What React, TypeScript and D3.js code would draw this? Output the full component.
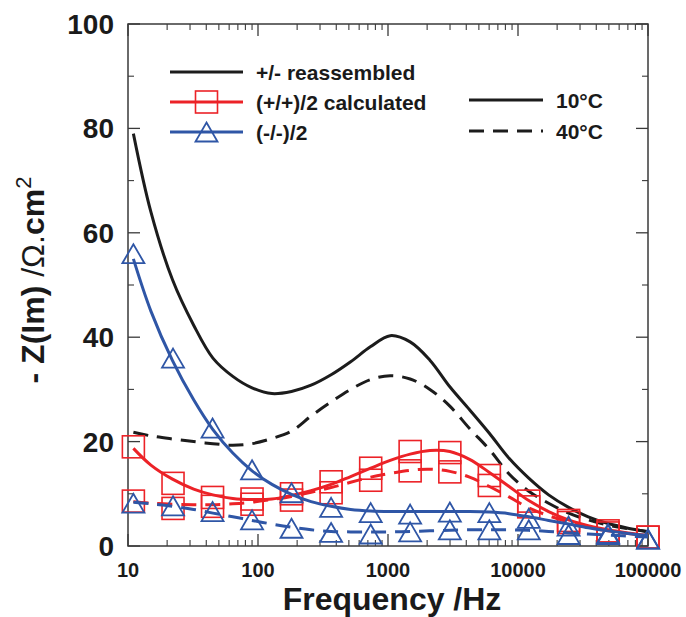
import React from "react";
import * as d3 from "d3";

// marker frequencies (Hz)
const markerFreq = [11, 22.2, 44.7, 90, 181, 365, 736, 1480, 2990, 6020, 12100, 24500, 49300, 100000];
// marker values
const redSolidPts = [19.0, 12.0, 9.3, 9.0, 10.0, 12.3, 14.9, 18.1, 17.9, 13.5, 8.6, 4.9, 2.9, 1.7];
const redDashPts = [8.6, 7.2, 7.6, 8.0, 8.8, 10.2, 12.6, 14.4, 14.2, 11.6, 7.5, 4.5, 2.5, 1.7];
const blueSolidPts = [56, 36, 22.6, 14.6, 10.2, 7.4, 6.4, 6.1, 6.5, 6.4, 5.3, 3.8, 2.4, 1.3];
const blueDashPts = [8.2, 7.7, 6.6, 5.0, 3.4, 2.6, 2.3, 2.7, 3.1, 3.1, 3.1, 2.2, 2.2, 1.3];

// fitted curve frequencies (Hz)
const curveFreq = [11, 15, 22, 32, 45, 64, 90, 128, 181, 256, 365, 516, 736, 1040, 1480, 2100, 2990, 4240, 6020, 8540, 12100, 17200, 24500, 34700, 49300, 70200, 100000];
const blackSolid = [79, 64, 51, 42.3, 36, 32.5, 30.3, 29.2, 29.6, 30.8, 32.8, 35.3, 38.2, 40.3, 39.1, 35.6, 30.5, 26.1, 21.6, 16.8, 13.0, 9.8, 7.4, 5.6, 4.3, 3.4, 2.7];
const blackDash = [21.8, 21.1, 20.5, 20.0, 19.6, 19.3, 19.6, 20.6, 22.0, 24.9, 27.6, 30.0, 31.9, 32.6, 32.0, 30.0, 26.8, 22.5, 18.5, 13.8, 10.5, 8.2, 6.3, 5.0, 4.0, 3.3, 2.8];
const redSolid = [18.7, 15.5, 12.8, 10.9, 9.8, 9.1, 8.9, 9.0, 9.7, 10.6, 11.8, 13.3, 14.9, 16.4, 17.6, 18.3, 18.1, 16.6, 14.1, 11.4, 8.7, 6.6, 5.0, 3.9, 3.1, 2.5, 2.0];
const redDash = [8.5, 8.2, 8.0, 7.9, 7.9, 8.1, 8.4, 8.9, 9.5, 10.3, 11.2, 12.2, 13.2, 13.9, 14.5, 14.7, 14.3, 13.2, 11.4, 9.4, 7.3, 5.8, 4.6, 3.6, 2.9, 2.4, 2.0];
const blueSolid = [55, 45, 35.5, 28, 22.3, 17.8, 14.4, 11.8, 9.9, 8.5, 7.6, 7.0, 6.7, 6.6, 6.6, 6.6, 6.6, 6.6, 6.5, 6.2, 5.6, 4.9, 4.2, 3.5, 2.9, 2.4, 2.0];
const blueDash = [8.4, 8.1, 7.6, 7.0, 6.3, 5.6, 4.9, 4.2, 3.6, 3.1, 2.8, 2.7, 2.7, 2.7, 2.8, 2.9, 3.0, 3.1, 3.1, 3.1, 3.0, 2.8, 2.5, 2.3, 2.1, 1.9, 1.7];

const xTicks = [10, 100, 1000, 10000, 100000];
const yTicks = [0, 20, 40, 60, 80, 100];
const legendLabels = ["+/- reassembled", "(+/+)/2 calculated", "(-/-)/2"];
const tempLabels = ["10°C", "40°C"];

const BLACK = "#1c1c1c";
const RED = "#ec2227";
const BLUE = "#2f56a6";
const AXIS = "#3a3a3a";
const FONT = "'Liberation Sans', Arial, Helvetica, sans-serif";
const DASH = "15,9";

export default function App() {
  const left = 128, right = 648, top = 24, bottom = 546;
  const x = d3.scaleLog().domain([10, 100000]).range([left, right]);
  const y = d3.scaleLinear().domain([0, 100]).range([bottom, top]);

  const line = (vals: number[]) =>
    d3.line<number>()
      .x((_, i) => x(curveFreq[i]))
      .y((v) => y(v))
      .curve(d3.curveCatmullRom.alpha(0.5))(vals) as string;

  const minorX: number[] = [];
  for (let dec = 10; dec < 100000; dec *= 10) {
    for (let k = 2; k <= 9; k++) minorX.push(dec * k);
  }
  const minorY = [10, 30, 50, 70, 90];

  const sq = 22;
  const triW = 22, triH = 19;
  const square = (cx: number, cy: number, key: string) => (
    <rect key={key} x={cx - sq / 2} y={cy - sq / 2} width={sq} height={sq} fill="none" stroke={RED} strokeWidth={1.6} />
  );
  const tri = (cx: number, cy: number, key: string) => (
    <path key={key}
      d={`M${cx},${cy - triH / 2}L${cx + triW / 2},${cy + triH / 2}L${cx - triW / 2},${cy + triH / 2}Z`}
      fill="none" stroke={BLUE} strokeWidth={1.8} />
  );

  return (
    <svg width={686} height={617} style={{ position: "absolute", left: 0, top: 0, background: "#fff" }}
      fontFamily={FONT}>
      {/* frame */}
      <rect x={left} y={top} width={right - left} height={bottom - top} fill="none" stroke={AXIS} strokeWidth={1.5} />
      {/* x ticks bottom & top */}
      {xTicks.map((t) => (
        <g key={"xt" + t}>
          <line x1={x(t)} x2={x(t)} y1={bottom} y2={bottom - 12} stroke={AXIS} strokeWidth={1.3} />
          <line x1={x(t)} x2={x(t)} y1={top} y2={top + 12} stroke={AXIS} strokeWidth={1.3} />
          <text x={x(t)} y={576.5} textAnchor="middle" fontSize={20} fontWeight="bold" fill="#1a1a1a">{t}</text>
        </g>
      ))}
      {minorX.map((t) => (
        <g key={"xm" + t}>
          <line x1={x(t)} x2={x(t)} y1={bottom} y2={bottom - 6} stroke={AXIS} strokeWidth={1.1} />
          <line x1={x(t)} x2={x(t)} y1={top} y2={top + 6} stroke={AXIS} strokeWidth={1.1} />
        </g>
      ))}
      {/* y ticks */}
      {yTicks.map((t) => (
        <g key={"yt" + t}>
          <line x1={left} x2={left + 12} y1={y(t)} y2={y(t)} stroke={AXIS} strokeWidth={1.3} />
          <line x1={right} x2={right - 12} y1={y(t)} y2={y(t)} stroke={AXIS} strokeWidth={1.3} />
          <text x={114} y={y(t) + 10} textAnchor="end" fontSize={28} fontWeight="bold" fill="#1a1a1a">{t}</text>
        </g>
      ))}
      {minorY.map((t) => (
        <g key={"ym" + t}>
          <line x1={left} x2={left + 6} y1={y(t)} y2={y(t)} stroke={AXIS} strokeWidth={1.1} />
          <line x1={right} x2={right - 6} y1={y(t)} y2={y(t)} stroke={AXIS} strokeWidth={1.1} />
        </g>
      ))}

      {/* curves */}
      <path d={line(blackSolid)} fill="none" stroke={BLACK} strokeWidth={3} />
      <path d={line(blackDash)} fill="none" stroke={BLACK} strokeWidth={3} strokeDasharray={DASH} />
      <path d={line(redSolid)} fill="none" stroke={RED} strokeWidth={3} />
      <path d={line(redDash)} fill="none" stroke={RED} strokeWidth={3} strokeDasharray={DASH} />
      {redSolidPts.map((v, i) => square(x(markerFreq[i]), y(v), "rs" + i))}
      {redDashPts.map((v, i) => square(x(markerFreq[i]), y(v), "rd" + i))}
      <path d={line(blueSolid)} fill="none" stroke={BLUE} strokeWidth={3} />
      <path d={line(blueDash)} fill="none" stroke={BLUE} strokeWidth={3} strokeDasharray={DASH} />
      {blueSolidPts.map((v, i) => tri(x(markerFreq[i]), y(v), "bs" + i))}
      {blueDashPts.map((v, i) => tri(x(markerFreq[i]), y(v), "bd" + i))}

      {/* legend 1 */}
      <line x1={170} x2={243} y1={72} y2={72} stroke={BLACK} strokeWidth={3} />
      <line x1={170} x2={243} y1={102} y2={102} stroke={RED} strokeWidth={3} />
      {square(206.5, 102, "lsq")}
      <line x1={170} x2={243} y1={132} y2={132} stroke={BLUE} strokeWidth={3} />
      {tri(206.5, 132, "ltri")}
      {legendLabels.map((l, i) => (
        <text key={l} x={256} y={72 + i * 30 + 7.5} fontSize={21} fontWeight="bold" fill="#1a1a1a">{l}</text>
      ))}
      {/* legend 2 */}
      <line x1={469} x2={543} y1={100} y2={100} stroke={BLACK} strokeWidth={3} />
      <line x1={469} x2={543} y1={131} y2={131} stroke={BLACK} strokeWidth={3} strokeDasharray={DASH} />
      {tempLabels.map((l, i) => (
        <text key={l} x={556} y={100 + i * 31 + 7.5} fontSize={21} fontWeight="bold" fill="#1a1a1a">{l}</text>
      ))}

      {/* axis titles */}
      <text x={392} y={610} textAnchor="middle" fontSize={32} fontWeight="bold" fill="#1a1a1a">Frequency /Hz</text>
      <text transform="translate(44,280) rotate(-90)" textAnchor="middle" fontSize={32} fill="#1a1a1a">
        <tspan fontWeight="bold">- Z(Im) </tspan>
        <tspan>/Ω.</tspan>
        <tspan fontWeight="bold">cm</tspan>
        <tspan fontSize={22} dy={-13}>2</tspan>
      </text>
    </svg>
  );
}
